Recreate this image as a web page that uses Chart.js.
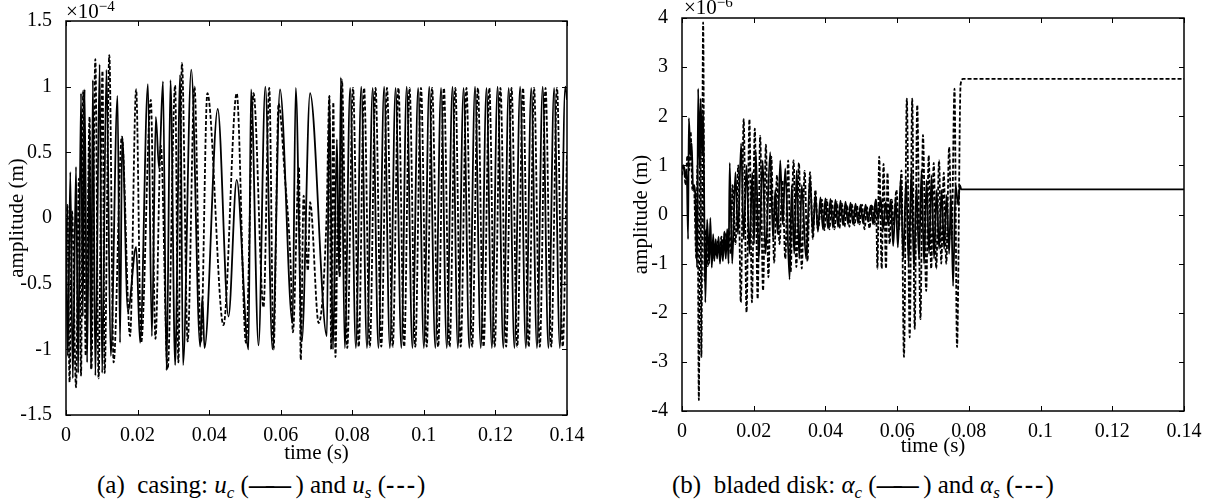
<!DOCTYPE html>
<html>
<head>
<meta charset="utf-8">
<script src="https://cdn.jsdelivr.net/npm/chart.js@4.4.1/dist/chart.umd.min.js"></script>
<style>
  body { margin: 0; background: #fff; }
  #wrap { position: relative; width: 1216px; height: 503px; overflow: hidden; font-family: 'Liberation Serif', serif; color: #000; }
  canvas { position: absolute; top: 0; }
  .exp { position: absolute; font-size: 21px; line-height: 24px; white-space: nowrap; }
  .exp sup { font-size: 15px; vertical-align: 7px; line-height: 0; }
  .cap { position: absolute; top: 471px; font-size: 25px; line-height: 28px; white-space: nowrap; }
  .cap sub { font-size: 17px; vertical-align: -5px; line-height: 0; }
  .cap .ln { font-weight: bold; letter-spacing: -8px; }
  .cap .dsh { font-weight: bold; letter-spacing: 2px; }
</style>
</head>
<body>
<div id="wrap">
  <canvas id="casing" width="600" height="470" style="left:0"></canvas>
  <canvas id="disk" width="600" height="470" style="left:616px"></canvas>
  <div class="exp" style="left:66px; top:-1px">×10<sup>−4</sup></div>
  <div class="exp" style="left:684px; top:-5px">×10<sup>−6</sup></div>
  <div class="cap" style="left:97px">(a)&nbsp; casing: <i>u</i><sub><i>c</i></sub> (<span class="ln">——</span>&nbsp;&nbsp;) and <i>u</i><sub><i>s</i></sub> (<span class="dsh">---</span>)</div>
  <div class="cap" style="left:672px">(b)&nbsp; bladed disk: <i>α</i><sub><i>c</i></sub> (<span class="ln">——</span>&nbsp;&nbsp;) and <i>α</i><sub><i>s</i></sub> (<span class="dsh">---</span>)</div>
</div>
<script>
// tick values
const timeTicks = [0, 0.02, 0.04, 0.06, 0.08, 0.1, 0.12, 0.14];
const casingTicks = [-1.5, -1, -0.5, 0, 0.5, 1, 1.5];   // x 1e-4 m
const diskTicks = [-4, -3, -2, -1, 0, 1, 2, 3, 4];       // x 1e-6 m

// (a) casing, u_c (solid), units of 1e-4 m
const casingTimeC = [
  0, 0.0005, 0.0012, 0.0019, 0.0028, 0.0034, 0.0042, 0.0047, 0.0052, 0.0059,
  0.0066, 0.0070, 0.0075, 0.0082, 0.0094, 0.0101, 0.0113, 0.0125, 0.0144, 0.0151,
  0.0157, 0.0173, 0.0196, 0.0207, 0.0229, 0.0240, 0.0251, 0.0260, 0.0271, 0.0281,
  0.0292, 0.0305, 0.0319, 0.0327, 0.0350, 0.0375, 0.0381, 0.0387, 0.0424, 0.0454,
  0.0477, 0.0510, 0.0517, 0.0538, 0.0557, 0.0577, 0.0598, 0.0633, 0.0642, 0.0659,
  0.0682, 0.0729, 0.0736, 0.0746, 0.0757, 0.0763, 0.0768, 0.0779, 0.0794, 0.0810,
  0.0825, 0.0841, 0.0857, 0.0873, 0.0889, 0.0905, 0.0921, 0.0937, 0.0952, 0.0968,
  0.0984, 0.1000, 0.1015, 0.1032, 0.1048, 0.1064, 0.1080, 0.1095, 0.1111, 0.1127,
  0.1143, 0.1159, 0.1175, 0.1190, 0.1206, 0.1222, 0.1237, 0.1253, 0.1269, 0.1285,
  0.1300, 0.1316, 0.1332, 0.1348, 0.1364, 0.1380, 0.1395, 0.1400
];
const casingUc = [
  0.0, -1.05, 0.35, -1.22, 0.39, -1.18, 0.95, -0.75, 0.98, -1.1,
  0.65, -1.15, 1.05, -1.2, 1.17, -1.18, 1.13, -1.05, 0.93, -0.95,
  0.62, -0.71, -0.22, -0.95, 1.02, -0.9, 0.77, 0.38, 1.04, -1.16,
  1.05, -1.12, 1.09, -1.12, 1.13, -0.98, -0.6, -0.99, 0.83, -0.75,
  0.29, -1.0, 0.98, -0.97, 1.0, -1.0, 0.98, -0.8, 0.99, -0.94,
  0.95, -0.9, 0.93, -1.0, 0.6, -0.42, 1.07, -0.99, 0.99, -0.99,
  1.0, -0.99, 0.99, -0.99, 1.0, -0.99, 0.99, -0.99, 1.0, -0.99,
  0.99, -0.99, 1.0, -0.99, 0.99, -0.99, 1.0, -0.99, 0.99, -0.99,
  1.0, -0.99, 0.99, -0.99, 1.0, -0.99, 0.99, -0.99, 1.0, -0.99,
  0.99, -0.99, 1.0, -0.99, 0.99, -0.99, 1.0, 0.9
];

// (a) casing, u_s (dashed)
const casingTimeS = [
  0, 0.0004, 0.0010, 0.0017, 0.0028, 0.0036, 0.0042, 0.0048, 0.0055, 0.0066,
  0.0071, 0.0082, 0.0091, 0.0102, 0.0108, 0.0121, 0.0133, 0.0156, 0.0179, 0.0196,
  0.0210, 0.0237, 0.0250, 0.0265, 0.0284, 0.0305, 0.0314, 0.0324, 0.0340, 0.0359,
  0.0377, 0.0395, 0.0440, 0.0477, 0.0503, 0.0524, 0.0552, 0.0568, 0.0580, 0.0594,
  0.0612, 0.0627, 0.0634, 0.0651, 0.0656, 0.0664, 0.0676, 0.0682, 0.0706, 0.0728,
  0.0736, 0.0741, 0.0747, 0.0753, 0.0760, 0.0765, 0.0771, 0.0786, 0.0802, 0.0818,
  0.0833, 0.0849, 0.0865, 0.0881, 0.0897, 0.0913, 0.0929, 0.0945, 0.0960, 0.0976,
  0.0992, 0.1008, 0.1023, 0.1040, 0.1056, 0.1072, 0.1088, 0.1103, 0.1119, 0.1135,
  0.1151, 0.1167, 0.1183, 0.1198, 0.1214, 0.1230, 0.1245, 0.1261, 0.1277, 0.1293,
  0.1308, 0.1324, 0.1340, 0.1356, 0.1372, 0.1388, 0.1400
];
const casingUs = [
  -0.5, 0.1, -1.25, 0.05, -1.29, 0.3, -1.2, 0.97, -1.05, 0.77,
  -1.15, 1.21, -1.22, 1.12, -1.18, 1.24, -1.1, 0.62, -0.9, 0.98,
  -0.95, 0.9, -0.92, 0.55, -1.15, 1.01, -1.1, 1.18, -0.94, 1.0,
  -0.95, 0.95, -0.815, 0.95, -0.95, 0.95, -0.68, 0.99, -1.0, 0.87,
  0.3, -0.3, -0.87, 0.39, -1.08, 0.17, -0.4, 0.12, -0.8, 0.0,
  0.93, -1.0, 0.88, -1.06, 0.1, -0.45, 1.05, -0.99, 0.99, -0.98,
  0.99, -0.98, 0.99, -0.98, 0.99, -0.98, 0.99, -0.98, 0.99, -0.98,
  0.99, -0.98, 0.99, -0.98, 0.99, -0.98, 0.99, -0.98, 0.99, -0.98,
  0.99, -0.98, 0.99, -0.98, 0.99, -0.98, 0.99, -0.98, 0.99, -0.98,
  0.99, -0.98, 0.99, -0.98, 0.99, -0.98, 0.5
];

// (b) bladed disk, alpha_c (solid), units of 1e-6 m
const diskTimeC = [
  0, 0.0005, 0.0009, 0.0013, 0.0017, 0.0019, 0.0024, 0.0027, 0.0031, 0.0034,
  0.0037, 0.0042, 0.0045, 0.0049, 0.0052, 0.0056, 0.0059, 0.0065, 0.0070, 0.0076,
  0.0079, 0.0083, 0.0087, 0.0090, 0.0094, 0.0098, 0.0102, 0.0106, 0.0110, 0.0114,
  0.0118, 0.0122, 0.0126, 0.0130, 0.0133, 0.0140, 0.0149, 0.0156, 0.0165, 0.0172,
  0.0180, 0.0188, 0.0196, 0.0201, 0.0206, 0.0214, 0.0225, 0.0233, 0.0246, 0.0254,
  0.0260, 0.0267, 0.0274, 0.0281, 0.0288, 0.0300, 0.0306, 0.0313, 0.0320, 0.0327,
  0.0334, 0.0346, 0.0357, 0.0365, 0.0372, 0.0379, 0.0386, 0.0393, 0.0400, 0.0407,
  0.0414, 0.0421, 0.0428, 0.0435, 0.0442, 0.0449, 0.0456, 0.0463, 0.0470, 0.0477,
  0.0484, 0.0491, 0.0498, 0.0505, 0.0512, 0.0519, 0.0526, 0.0533, 0.0540, 0.0547,
  0.0554, 0.0561, 0.0568, 0.0575, 0.0582, 0.0589, 0.0596, 0.0602, 0.0610, 0.0617,
  0.0625, 0.0632, 0.0640, 0.0647, 0.0654, 0.0661, 0.0668, 0.0675, 0.0682, 0.0689,
  0.0696, 0.0703, 0.0710, 0.0717, 0.0724, 0.0731, 0.0738, 0.0745, 0.0750, 0.0756,
  0.0763, 0.0770, 0.0775, 0.0779, 0.1400
];
const diskAc = [
  0.95, 1.0, 0.75, 0.9, -0.5, 1.96, 1.2, 1.45, 0.5, 0.6,
  0.4, -1.08, 2.56, 1.0, 2.36, 1.2, 2.1, -1.79, -0.1, -1.0,
  -0.07, -1.08, -0.4, -0.95, -0.5, -0.9, -0.45, -1.0, -0.5, -0.95,
  -0.35, -0.9, -0.3, -1.0, 1.05, -1.0, 0.86, -0.4, 1.45, -0.5,
  1.0, -0.8, 0.86, -0.6, 1.27, -0.9, 1.1, -0.8, 1.27, -0.5,
  0.5, -0.4, 1.1, -0.2, 0.94, -1.32, 0.6, -0.8, 0.9, -0.9,
  0.6, -0.9, 0.74, -0.4, 0.4, -0.35, 0.35, -0.3, 0.33, -0.28,
  0.32, -0.27, 0.3, -0.25, 0.28, -0.22, 0.26, -0.2, 0.24, -0.2,
  0.22, -0.18, 0.2, -0.18, 0.2, -0.15, 0.18, -0.2, 0.3, -0.1,
  0.35, -0.3, 0.25, -0.2, 0.3, -0.64, 0.35, -0.67, 0.74, -0.9,
  0.7, -1.0, 0.9, -1.1, 0.6, -0.9, 0.9, -1.0, 0.7, -0.8,
  0.8, -0.9, 0.5, -0.7, 0.5, -0.7, 0.4, -0.8, 0.4, -1.46,
  0.6, 0.2, 0.6, 0.51, 0.51
];

// (b) bladed disk, alpha_s (dashed)
const diskTimeS = [
  0, 0.0005, 0.0010, 0.0015, 0.0020, 0.0024, 0.0029, 0.0033, 0.0040, 0.0043,
  0.0047, 0.0051, 0.0054, 0.0059, 0.0063, 0.0067, 0.0072, 0.0078, 0.0085, 0.0090,
  0.0095, 0.0100, 0.0105, 0.0110, 0.0115, 0.0120, 0.0125, 0.0130, 0.0136, 0.0141,
  0.0149, 0.0157, 0.0164, 0.0172, 0.0180, 0.0188, 0.0195, 0.0203, 0.0211, 0.0218,
  0.0226, 0.0234, 0.0241, 0.0249, 0.0257, 0.0265, 0.0272, 0.0280, 0.0288, 0.0296,
  0.0303, 0.0311, 0.0319, 0.0326, 0.0334, 0.0342, 0.0350, 0.0357, 0.0365, 0.0372,
  0.0379, 0.0390, 0.0397, 0.0404, 0.0411, 0.0418, 0.0425, 0.0432, 0.0439, 0.0446,
  0.0453, 0.0460, 0.0467, 0.0474, 0.0481, 0.0488, 0.0495, 0.0502, 0.0509, 0.0516,
  0.0523, 0.0530, 0.0537, 0.0541, 0.0545, 0.0550, 0.0557, 0.0562, 0.0569, 0.0573,
  0.0579, 0.0585, 0.0590, 0.0598, 0.0605, 0.0612, 0.0619, 0.0627, 0.0635, 0.0642,
  0.0649, 0.0656, 0.0665, 0.0672, 0.0681, 0.0688, 0.0695, 0.0702, 0.0709, 0.0717,
  0.0723, 0.0730, 0.0737, 0.0745, 0.0752, 0.0760, 0.0767, 0.0777, 0.0784, 0.1400
];
const diskAs = [
  0.8, 1.0, 0.6, 1.2, 0.9, 1.69, 0.5, 0.6, -0.9, 1.0,
  -3.78, 2.1, -2.9, 3.91, -1.35, -0.3, -1.05, -0.6, -0.9, -0.6,
  -0.85, -0.55, -0.75, -0.45, -0.65, -0.35, -0.5, -0.3, -0.8, 0.6,
  -0.6, 1.0, -1.79, 1.94, -1.99, 1.94, -1.79, 1.75, -1.72, 1.6,
  -1.55, 1.42, -1.28, 1.18, -0.98, 0.8, -0.6, 0.7, -0.9, 1.1,
  -1.17, 1.1, -1.07, 1.05, -1.1, 0.89, -0.95, 0.86, -0.5, 0.5,
  -0.3, 0.3, -0.32, 0.3, -0.3, 0.28, -0.3, 0.25, -0.28, 0.22,
  -0.25, 0.2, -0.25, 0.2, -0.22, 0.18, -0.2, 0.2, -0.3, 0.15,
  -0.28, 0.2, -0.2, 0.3, -1.1, 1.18, -1.1, 1.03, -1.1, 0.85,
  -0.6, 0.3, -0.2, 0.5, -0.3, 0.9, -2.9, 2.36, -2.5, 2.36,
  -2.33, 2.23, -2.13, 1.62, -1.56, 1.2, -1.1, 1.05, -1.1, 1.1,
  -1.0, 0.85, -1.0, 1.37, -0.5, 2.56, -2.7, 2.65, 2.76, 2.76
];

Chart.defaults.font.family = "'Liberation Serif', serif";
Chart.defaults.color = '#000';

const toPoints = (t, v) => t.map((x, i) => ({ x: x, y: v[i] }));

// frame round the plot area + inward tick marks on all four sides
const frameTicks = {
  id: 'frameTicks',
  afterDraw(chart) {
    const { ctx, chartArea: a, scales } = chart;
    const x = scales.x, y = scales.y;
    ctx.save();
    ctx.strokeStyle = '#000';
    ctx.lineWidth = 1;
    ctx.beginPath();
    x.ticks.forEach(t => {
      const px = Math.round(x.getPixelForValue(t.value)) + 0.5;
      ctx.moveTo(px, a.bottom); ctx.lineTo(px, a.bottom - 5);
      ctx.moveTo(px, a.top); ctx.lineTo(px, a.top + 5);
    });
    y.ticks.forEach(t => {
      const py = Math.round(y.getPixelForValue(t.value)) + 0.5;
      ctx.moveTo(a.left, py); ctx.lineTo(a.left + 5, py);
      ctx.moveTo(a.right, py); ctx.lineTo(a.right - 5, py);
    });
    ctx.stroke();
    ctx.lineWidth = 1.5;
    ctx.strokeRect(a.left, a.top, a.right - a.left, a.bottom - a.top);
    ctx.restore();
  }
};

function makeChart(id, cfg) {
  return new Chart(document.getElementById(id), {
    type: 'line',
    data: {
      datasets: [
        {
          data: toPoints(cfg.tc, cfg.vc),
          borderColor: '#000',
          borderWidth: 1.8,
          cubicInterpolationMode: 'monotone',
          pointRadius: 0
        },
        {
          data: toPoints(cfg.ts, cfg.vs),
          borderColor: '#000',
          borderWidth: 1.8,
          borderDash: [4, 2],
          cubicInterpolationMode: 'monotone',
          pointRadius: 0
        }
      ]
    },
    options: {
      responsive: false,
      animation: false,
      events: [],
      layout: { padding: cfg.padding },
      plugins: { legend: { display: false }, tooltip: { enabled: false } },
      scales: {
        x: {
          type: 'linear',
          min: 0,
          max: 0.14,
          afterBuildTicks: s => { s.ticks = timeTicks.map(v => ({ value: v })); },
          afterFit: s => { s.height = cfg.xHeight; },
          grid: { display: false },
          border: { display: false },
          ticks: { padding: 1, font: { size: 20 }, callback: v => String(v) },
          title: { display: true, text: 'time (s)', font: { size: 21 }, padding: cfg.xTitlePad }
        },
        y: {
          min: cfg.yTicks[0],
          max: cfg.yTicks[cfg.yTicks.length - 1],
          afterBuildTicks: s => { s.ticks = cfg.yTicks.map(v => ({ value: v })); },
          afterFit: s => { s.width = 66; },
          grid: { display: false },
          border: { display: false },
          ticks: { padding: 6, font: { size: 20 }, callback: v => String(v) },
          title: { display: true, text: 'amplitude (m)', font: { size: 21 }, padding: cfg.yTitlePad }
        }
      }
    },
    plugins: [frameTicks]
  });
}

makeChart('casing', {
  tc: casingTimeC, vc: casingUc, ts: casingTimeS, vs: casingUs,
  yTicks: casingTicks,
  padding: { top: 21, right: 33, bottom: 0, left: 0 },
  xHeight: 55,
  xTitlePad: { top: 0, bottom: 4 },
  yTitlePad: { top: 5, bottom: 0 }
});

makeChart('disk', {
  tc: diskTimeC, vc: diskAc, ts: diskTimeS, vs: diskAs,
  yTicks: diskTicks,
  padding: { top: 16, right: 32, bottom: 0, left: 0 },
  xHeight: 59,
  xTitlePad: { top: 0, bottom: 11 },
  yTitlePad: { top: 13, bottom: 0 }
});
</script>
</body>
</html>
